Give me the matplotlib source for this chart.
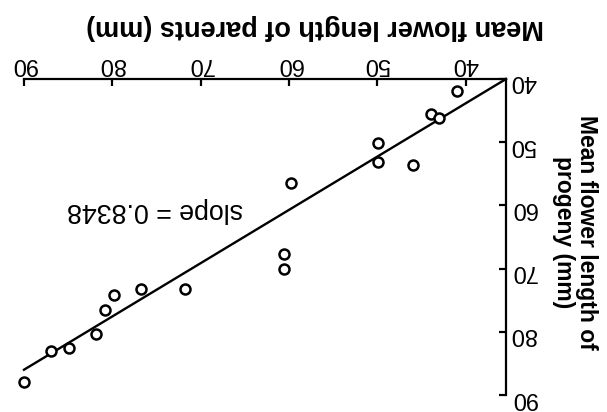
import matplotlib
matplotlib.use("Agg")
import matplotlib.pyplot as plt
import numpy as np

parents = [41.0, 43.9, 43.0, 49.9, 49.9, 46.0, 59.8, 60.6, 60.6,
           71.8, 76.8, 79.8, 80.8, 81.9, 84.9, 87.0, 90.0]
progeny = [41.9, 45.6, 46.2, 50.2, 53.2, 53.6, 56.4, 67.7, 70.0,
           73.3, 73.2, 74.2, 76.6, 80.4, 82.5, 83.1, 88.0]
fit_x = [35.45, 90.0]
fit_y = [40.0, 86.0]
slope_text = "slope = 0.8348"
ticks = [40, 50, 60, 70, 80, 90]

plt.rcParams["font.family"] = ["Liberation Sans", "DejaVu Sans"]

fig = plt.figure(figsize=(6.07, 4.12), dpi=100)
ax = fig.add_axes([24 / 607, 1 - 395 / 412, (506 - 24) / 607, (395 - 79) / 412])

ax.plot(fit_x, fit_y, color="black", lw=1.7, clip_on=False)
ax.plot(parents, progeny, "o", ms=7.2, mfc="white", mec="black", mew=1.8,
        clip_on=False)

# whole chart is drawn rotated by 180 degrees
ax.set_xlim(90, 35.45)
ax.set_ylim(90, 40)
ax.set_xticks(ticks)
ax.set_yticks(ticks)
ax.xaxis.tick_top()
ax.yaxis.tick_right()
for s in ["left", "bottom"]:
    ax.spines[s].set_visible(False)
for s in ["top", "right"]:
    ax.spines[s].set_linewidth(1.6)
ax.tick_params(direction="in", length=5, width=1.6, labelsize=17,
               labelrotation=180, pad=3)

ax.text(75.2, 60.7, slope_text, rotation=180, ha="center", va="center",
        fontsize=19.3)

fig.text(315 / 607, 1 - 27 / 412, "Mean flower length of parents (mm)",
         rotation=180, ha="center", va="center", fontsize=19.5,
         fontweight="bold")
fig.text(575 / 607, 1 - 232 / 412, "Mean flower length of\nprogeny (mm)",
         rotation=270, ha="center", va="center", multialignment="center",
         fontsize=16.5, fontweight="bold", linespacing=1.05)

fig.savefig("out.png", dpi=100)
